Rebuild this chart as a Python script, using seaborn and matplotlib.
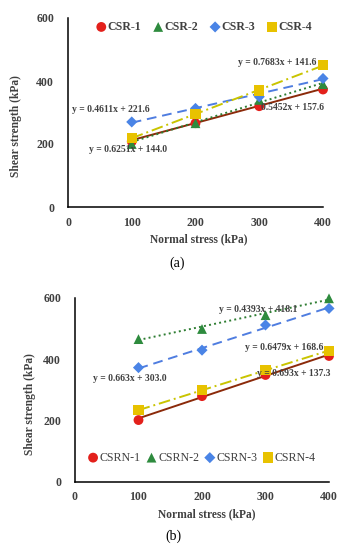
import numpy as np
import pandas as pd
import matplotlib
matplotlib.use("Agg")
import matplotlib.pyplot as plt
import seaborn as sns

sns.set_theme(style="white")
plt.rcParams['font.family'] = ['Liberation Serif', 'DejaVu Serif']

normal_stress = [100, 200, 300, 400]

# Panel (a)
series_a = ["CSR-1", "CSR-2", "CSR-3", "CSR-4"]
csr1 = [208, 266, 320, 373]
csr2 = [200, 266, 340, 390]
csr3 = [270, 313, 350, 408]
csr4 = [218, 296, 370, 450]
slopes_a = [0.5452, 0.6251, 0.4611, 0.7683]
intercepts_a = [157.6, 144.0, 221.6, 141.6]
eq_a = ["0.5452x + 157.6", "y = 0.6251x + 144.0", "y = 0.4611x + 221.6", "y = 0.7683x + 141.6"]

# Panel (b)
series_b = ["CSRN-1", "CSRN-2", "CSRN-3", "CSRN-4"]
csrn1 = [201, 279, 348, 410]
csrn2 = [465, 498, 543, 598]
csrn3 = [372, 429, 511, 565]
csrn4 = [234, 299, 364, 427]
slopes_b = [0.693, 0.4393, 0.663, 0.6479]
intercepts_b = [137.3, 418.1, 303.0, 168.6]
eq_b = ["y = 0.693x + 137.3", "y = 0.4393x + 418.1", "y = 0.663x + 303.0", "y = 0.6479x + 168.6"]

marker_colors = ["#e3201b", "#2e8b3e", "#4a84e6", "#e8c200"]
line_colors = ["#8b2a0a", "#2e7d32", "#4f7de0", "#c9c400"]
line_styles = ["-", ":", (0, (5, 3)), (0, (6, 2, 1, 2))]
markers = ["o", "^", "D", "s"]
msizes = [50, 50, 32, 55]

txt_col = "#404040"

fig = plt.figure(figsize=(3.5, 5.5), dpi=100)
ax_a = fig.add_axes([68/350, 1-207/550, 255/350, 189/550])
ax_b = fig.add_axes([75/350, 1-481.7/550, 254/350, 184/550])


def draw(ax, names, vals, slopes, intercepts):
    for i, name in enumerate(names):
        x = np.array(normal_stress, dtype=float)
        fit = slopes[i] * x + intercepts[i]
        sns.lineplot(x=x, y=fit, ax=ax, color=line_colors[i], linestyle=line_styles[i],
                     linewidth=1.4, legend=False, zorder=2)
    for i, name in enumerate(names):
        df = pd.DataFrame({"x": normal_stress, "y": vals[i]})
        sns.scatterplot(data=df, x="x", y="y", ax=ax, color=marker_colors[i], marker=markers[i],
                        s=msizes[i], edgecolor="none", label=name, zorder=3, clip_on=False)


def style(ax, xlab_pos, ylab_pos):
    ax.set_xlim(0, 400)
    ax.set_ylim(0, 600)
    ax.set_xticks([0, 100, 200, 300, 400])
    ax.set_yticks([0, 200, 400, 600])
    for s in ["top", "right"]:
        ax.spines[s].set_visible(False)
    for s in ["left", "bottom"]:
        ax.spines[s].set_color("black")
        ax.spines[s].set_linewidth(1.1)
    ax.tick_params(axis="y", direction="inout", length=4, width=1, color="black", pad=8,
                   labelsize=8.5, labelcolor=txt_col)
    ax.tick_params(axis="x", length=0, pad=7, labelsize=8.5, labelcolor=txt_col)
    for lab in ax.get_xticklabels() + ax.get_yticklabels():
        lab.set_fontweight("bold")
    ax.set_xlabel("Normal stress (kPa)", fontsize=8.3, fontweight="bold", color=txt_col)
    ax.set_ylabel("Shear strength (kPa)", fontsize=8.3, fontweight="bold", color=txt_col)
    ax.xaxis.set_label_coords(*xlab_pos)
    ax.yaxis.set_label_coords(*ylab_pos)
    ax.grid(False)


draw(ax_a, series_a, [csr1, csr2, csr3, csr4], slopes_a, intercepts_a)
draw(ax_b, series_b, [csrn1, csrn2, csrn3, csrn4], slopes_b, intercepts_b)
style(ax_a, (0.514, -0.138), (-0.18, 0.429))
style(ax_b, (0.52, -0.143), (-0.155, 0.422))

leg_kw = dict(ncol=4, frameon=False, fontsize=8.6, handletextpad=0.15,
              handlelength=0.8, borderaxespad=0.0, markerscale=1.0)
leg_a = ax_a.legend(loc="center", bbox_to_anchor=(0.535, 0.952), columnspacing=1.0, **leg_kw)
leg_b = ax_b.legend(loc="center", bbox_to_anchor=(0.50, 0.13), columnspacing=0.5, **leg_kw)
for t in leg_a.get_texts():
    t.set_color(txt_col)
    t.set_fontweight("bold")
for t in leg_b.get_texts():
    t.set_color(txt_col)

ann_kw = dict(fontsize=6.9, fontweight="bold", color=txt_col, ha="center", va="center", zorder=4)
ann_a_pos = [(352, 317), (94, 181), (67, 311), (328, 460)]
for (x, y), t in zip(ann_a_pos, eq_a):
    ax_a.text(x, y, t, clip_on=False, **ann_kw)

ann_b_pos = [(345, 353), (288, 563), (87, 335), (329, 438)]
for (x, y), t in zip(ann_b_pos, eq_b):
    ax_b.text(x, y, t, clip_on=False, **ann_kw)

fig.text(177/350, 1-263/550, "(a)", fontsize=10, ha="center", va="center", color="black")
fig.text(173/350, 1-536/550, "(b)", fontsize=10, ha="center", va="center", color="black")

fig.savefig("out.png", dpi=100)
